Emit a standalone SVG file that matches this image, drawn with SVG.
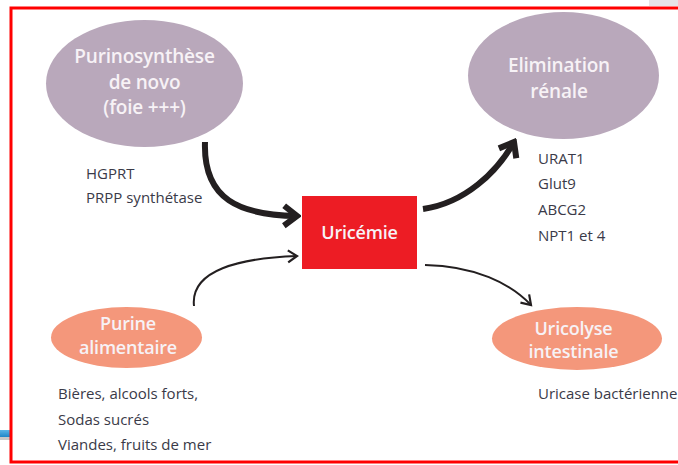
<svg xmlns="http://www.w3.org/2000/svg" width="678" height="465" viewBox="0 0 678 465">
<defs>
<style>
.lbl{font-family:"Open Sans","Liberation Sans",sans-serif;font-size:15px;fill:#3a3a48}
.in{font-family:"Open Sans","Liberation Sans",sans-serif;font-weight:600;fill:#f7f2f6;text-anchor:middle;letter-spacing:-0.2px}
.big{font-size:19px}
.sm{font-size:18px}
.purple{fill:#b9a8bb}
.salmon{fill:#f4977b}
.thick{fill:none;stroke:#231f20;stroke-width:6}
.thin{fill:none;stroke:#231f20;stroke-width:2}
</style>
<linearGradient id="blue" x1="0" y1="0" x2="0" y2="1">
<stop offset="0" stop-color="#5ab4e6"/>
<stop offset="1" stop-color="#1f86c8"/>
</linearGradient>
<marker id="ah-thick" markerUnits="userSpaceOnUse" viewBox="-16 -14 20 28" markerWidth="20" markerHeight="28" refX="0" refY="0" orient="auto">
<path d="M-13,-10 L0,0 L-13,10" fill="none" stroke="#231f20" stroke-width="6" stroke-linejoin="miter"/>
</marker>
<marker id="ah-thin" markerUnits="userSpaceOnUse" viewBox="-12 -9 15 18" markerWidth="15" markerHeight="18" refX="0" refY="0" orient="auto">
<path d="M-9,-6 L0,0 L-9,6" fill="none" stroke="#231f20" stroke-width="2.2"/>
</marker>
</defs>
<rect x="0" y="0" width="678" height="465" fill="#ffffff"/>
<rect x="649" y="0" width="29" height="6" fill="#e7e3e7"/>
<rect x="0" y="437" width="12" height="3" fill="#c8c8c8"/>
<rect x="0" y="430" width="12" height="7" fill="url(#blue)"/>
<rect x="11" y="8" width="690" height="454" fill="none" stroke="#ff0000" stroke-width="3"/>

<g id="connectors">
<path class="thick" d="M205,142 C203,200 240,215 297,216" marker-end="url(#ah-thick)"/>
<path class="thick" d="M423,209 C465,203 497,172 514,142" marker-end="url(#ah-thick)"/>
<path class="thin" d="M194,306 C190,270 240,258 297,256" marker-end="url(#ah-thin)"/>
<path class="thin" d="M425,265 C475,266 510,283 531,305" marker-end="url(#ah-thin)"/>
</g>

<g id="purinosynthese">
<ellipse class="purple" cx="144.5" cy="83.5" rx="98.5" ry="63.5"/>
<text class="in big" x="144.5" y="63">Purinosynthèse</text>
<text class="in big" x="144.5" y="89">de novo</text>
<text class="in big" x="144.5" y="114">(foie +++)</text>
<text class="lbl" x="86" y="179">HGPRT</text>
<text class="lbl" x="86" y="203">PRPP synthétase</text>
</g>

<g id="elimination">
<ellipse class="purple" cx="563.5" cy="75.5" rx="95.5" ry="63.5"/>
<text class="in big" x="559" y="72">Elimination</text>
<text class="in big" x="559" y="98">rénale</text>
<text class="lbl" x="538" y="164">URAT1</text>
<text class="lbl" x="538" y="189">Glut9</text>
<text class="lbl" x="538" y="215">ABCG2</text>
<text class="lbl" x="538" y="241">NPT1 et 4</text>
</g>

<g id="uricemie">
<rect x="302" y="196" width="115" height="73" fill="#ed1c24"/>
<text class="in sm" x="359.5" y="239">Uricémie</text>
</g>

<g id="purine">
<ellipse class="salmon" cx="126.5" cy="337.5" rx="75.5" ry="30.5"/>
<text class="in sm" x="128" y="330">Purine</text>
<text class="in sm" x="128" y="354">alimentaire</text>
<text class="lbl" x="58" y="399">Bières, alcools forts,</text>
<text class="lbl" x="58" y="425">Sodas sucrés</text>
<text class="lbl" x="58" y="450">Viandes, fruits de mer</text>
</g>

<g id="uricolyse">
<ellipse class="salmon" cx="577" cy="338.5" rx="85" ry="31.5"/>
<text class="in sm" x="573.5" y="335">Uricolyse</text>
<text class="in sm" x="573.5" y="358">intestinale</text>
<text class="lbl" x="538" y="399">Uricase bactérienne</text>
</g>
</svg>
